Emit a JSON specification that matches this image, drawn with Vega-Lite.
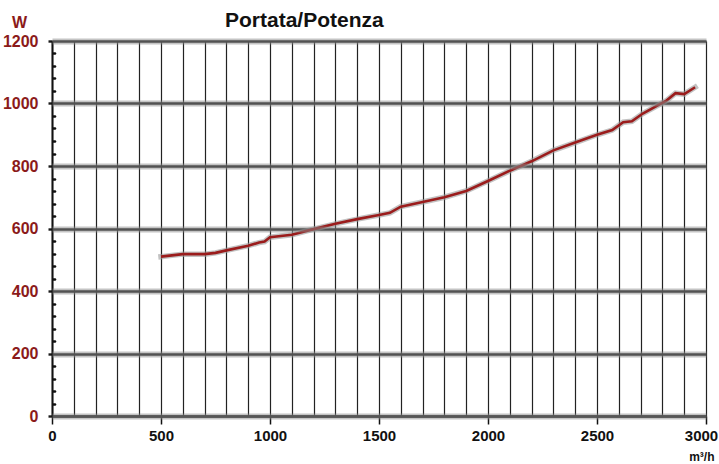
{
  "$schema": "https://vega.github.io/schema/vega-lite/v6.json",
  "width": 654,
  "height": 375,
  "autosize": "none",
  "padding": {"left": 52, "top": 41, "right": 13, "bottom": 48},
  "background": "white",
  "title": {
    "text": "Portata/Potenza",
    "anchor": "start",
    "frame": "group",
    "dx": 173,
    "dy": 17,
    "offset": 0,
    "font": "Liberation Sans",
    "fontSize": 21,
    "fontWeight": "bold",
    "color": "#111"
  },
  "config": {
    "view": {"stroke": null},
    "axis": {"labelFont": "Liberation Sans", "titleFont": "Liberation Sans"}
  },
  "data": {
    "values": [
      {"portata": 500, "potenza": 510},
      {"portata": 550, "potenza": 514},
      {"portata": 600, "potenza": 518},
      {"portata": 700, "potenza": 518},
      {"portata": 750, "potenza": 522},
      {"portata": 800, "potenza": 530},
      {"portata": 900, "potenza": 545},
      {"portata": 950, "potenza": 555},
      {"portata": 975, "potenza": 558},
      {"portata": 1000, "potenza": 572},
      {"portata": 1100, "potenza": 580},
      {"portata": 1200, "potenza": 598},
      {"portata": 1300, "potenza": 615},
      {"portata": 1400, "potenza": 630},
      {"portata": 1500, "potenza": 643},
      {"portata": 1550, "potenza": 650},
      {"portata": 1600, "potenza": 670},
      {"portata": 1700, "potenza": 685},
      {"portata": 1800, "potenza": 700},
      {"portata": 1900, "potenza": 720},
      {"portata": 2000, "potenza": 752},
      {"portata": 2100, "potenza": 785},
      {"portata": 2200, "potenza": 815},
      {"portata": 2300, "potenza": 850},
      {"portata": 2400, "potenza": 875},
      {"portata": 2500, "potenza": 900},
      {"portata": 2570, "potenza": 915},
      {"portata": 2620, "potenza": 940},
      {"portata": 2660, "potenza": 943},
      {"portata": 2710, "potenza": 968},
      {"portata": 2820, "potenza": 1010},
      {"portata": 2860, "potenza": 1033},
      {"portata": 2900, "potenza": 1030},
      {"portata": 2950, "potenza": 1052}
    ]
  },
  "encoding": {
    "x": {
      "field": "portata", "type": "quantitative",
      "scale": {"domain": [0, 3000], "nice": false, "zero": false},
      "axis": {
        "values": [0,100,200,300,400,500,600,700,800,900,1000,1100,1200,1300,1400,1500,1600,1700,1800,1900,2000,2100,2200,2300,2400,2500,2600,2700,2800,2900,3000],
        "labelExpr": "datum.value % 500 == 0 ? datum.label : ''",
        "format": "d",
        "labelOverlap": false,
        "grid": true,
        "gridColor": "#222",
        "gridWidth": 1.2,
        "tickColor": "#111",
        "tickWidth": 1.5,
        "tickSize": 8,
        "tickOpacity": {"condition": {"test": "datum.value % 500 == 0", "value": 1}, "value": 0},
        "labelPadding": 4,
        "labelFontSize": 15,
        "labelFontWeight": "bold",
        "labelColor": "#111",
        "labelFlush": false,
        "labelOffset": {"condition": {"test": "datum.value == 3000", "value": -5}, "value": 0},
        "domain": true,
        "domainColor": "#222",
        "domainWidth": 2.6,
        "title": "m³/h",
        "titleFontSize": 12,
        "titleFontWeight": "bold",
        "titleColor": "#111",
        "titleAnchor": "end",
        "titleAlign": "right",
        "titleX": 662,
        "titleY": 44,
        "titleBaseline": "alphabetic"
      }
    }
  },
  "resolve": {"axis": {"y": "independent"}},
  "layer": [
    {
      "mark": {"type": "line", "opacity": 0},
      "encoding": {
        "y": {
          "field": "potenza", "type": "quantitative",
          "scale": {"domain": [0, 1200], "nice": false},
          "axis": {
            "orient": "left",
            "values": [0, 200, 400, 600, 800, 1000, 1200],
            "labels": false,
            "ticks": false,
            "domain": false,
            "title": null,
            "grid": true,
            "gridColor": "#8a8a8a",
            "gridOpacity": 0.5,
            "gridWidth": 6,
            "zindex": 1
          }
        }
      }
    },
    {
      "mark": {"type": "line", "color": "#9a9a9a", "strokeWidth": 5.5, "opacity": 0.6, "strokeCap": "square"},
      "encoding": {
        "y": {
          "field": "potenza", "type": "quantitative",
          "axis": {
            "orient": "right",
            "offset": -653,
            "values": [40,80,120,160,240,280,320,360,440,480,520,560,640,680,720,760,840,880,920,960,1040,1080,1120,1160],
            "labels": false,
            "domain": false,
            "grid": false,
            "title": null,
            "tickSize": 1.5,
            "tickWidth": 2.5,
            "tickCap": "round",
            "tickColor": "#111"
          }
        }
      }
    },
    {
      "mark": {"type": "line", "color": "#9b1c1c", "strokeWidth": 2.6},
      "encoding": {
        "y": {
          "field": "potenza", "type": "quantitative",
          "axis": {
            "orient": "left",
            "values": [0, 200, 400, 600, 800, 1000, 1200],
            "format": "d",
            "grid": true,
            "gridColor": "#1a1a1a",
            "gridWidth": 2.4,
            "tickSize": 4,
            "tickWidth": 2.4,
            "tickColor": "#1a1a1a",
            "labelPadding": 10,
            "labelFontSize": 16,
            "labelFontWeight": "bold",
            "labelColor": "#8b1a1a",
            "domain": true,
            "domainColor": "#111",
            "domainWidth": 2,
            "title": "W",
            "titleAngle": 0,
            "titleFontSize": 16,
            "titleFontWeight": "bold",
            "titleColor": "#8b1a1a",
            "titleX": -33,
            "titleY": -14,
            "titleAlign": "center",
            "titleBaseline": "alphabetic"
          }
        }
      }
    }
  ]
}
